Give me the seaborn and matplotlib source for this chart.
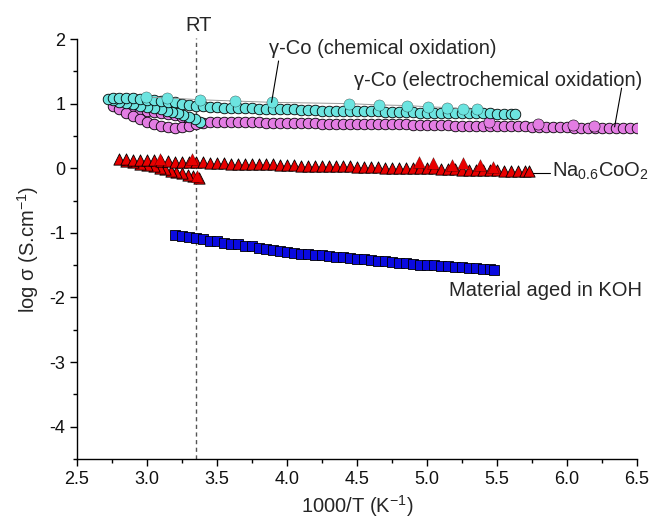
import matplotlib
matplotlib.use("Agg")
import matplotlib.pyplot as plt
import seaborn as sns
from matplotlib.ticker import MultipleLocator

# ---------------- data ----------------
# gamma-Co, chemical oxidation (cyan circles)
cyan_cool_x = [2.72, 2.76, 2.80, 2.85, 2.90, 2.95, 3.00, 3.05, 3.10, 3.15,
               3.20, 3.25, 3.30, 3.35, 3.40, 3.45, 3.50, 3.55, 3.60, 3.65,
               3.70, 3.75, 3.80, 3.85, 3.90, 3.95, 4.00, 4.05, 4.10, 4.15,
               4.20, 4.25, 4.30, 4.35, 4.40, 4.45, 4.50, 4.55, 4.60, 4.65,
               4.70, 4.75, 4.80, 4.85, 4.90, 4.95, 5.00, 5.05, 5.10, 5.15,
               5.20, 5.25, 5.30, 5.35, 5.40, 5.45, 5.50, 5.55, 5.60, 5.63]
cyan_cool_y = [1.07, 1.08, 1.08, 1.08, 1.08, 1.07, 1.06, 1.05, 1.04, 1.03,
               1.02, 1.00, 0.98, 0.97, 0.96, 0.95, 0.95, 0.94, 0.94, 0.93,
               0.93, 0.93, 0.92, 0.92, 0.92, 0.91, 0.91, 0.91, 0.90, 0.90,
               0.90, 0.89, 0.89, 0.89, 0.89, 0.88, 0.88, 0.88, 0.88, 0.88,
               0.87, 0.87, 0.87, 0.87, 0.87, 0.86, 0.86, 0.86, 0.86, 0.86,
               0.85, 0.85, 0.85, 0.85, 0.85, 0.85, 0.84, 0.84, 0.84, 0.84]
cyan_heat_x = [3.38, 3.34, 3.30, 3.26, 3.22, 3.18, 3.14, 3.10, 3.05, 3.00,
               2.95, 2.90, 2.85, 2.80, 2.76]
cyan_heat_y = [0.72, 0.76, 0.79, 0.82, 0.85, 0.87, 0.89, 0.91, 0.93, 0.95,
               0.97, 0.99, 1.01, 1.03, 1.05]
cyan_big_x = [2.99, 3.14, 3.38, 3.63, 3.89, 4.44, 4.66, 4.86, 5.01, 5.14, 5.26, 5.36]
cyan_big_y = [1.10, 1.09, 1.06, 1.04, 1.02, 1.00, 0.98, 0.97, 0.95, 0.94, 0.92, 0.91]

# gamma-Co, electrochemical oxidation (violet circles)
mag_arc_x = [2.80, 2.85, 2.90, 2.95, 3.00, 3.05, 3.10, 3.15, 3.20, 3.25, 3.30]
mag_arc_y = [0.98, 0.95, 0.92, 0.90, 0.88, 0.87, 0.86, 0.84, 0.82, 0.79, 0.76]
mag_low_x = [2.76, 2.80, 2.85, 2.90, 2.95, 3.00, 3.05, 3.10, 3.15, 3.20,
             3.25, 3.30, 3.35, 3.40, 3.45, 3.50]
mag_low_y = [0.96, 0.92, 0.86, 0.81, 0.76, 0.72, 0.68, 0.66, 0.64, 0.63,
             0.64, 0.66, 0.68, 0.70, 0.71, 0.71]
mag_right_x = [3.55, 3.60, 3.65, 3.70, 3.75, 3.80, 3.85, 3.90, 3.95, 4.00,
               4.05, 4.10, 4.15, 4.20, 4.25, 4.30, 4.35, 4.40, 4.45, 4.50,
               4.55, 4.60, 4.65, 4.70, 4.75, 4.80, 4.85, 4.90, 4.95, 5.00,
               5.05, 5.10, 5.15, 5.20, 5.25, 5.30, 5.35, 5.40, 5.45, 5.50,
               5.55, 5.60, 5.65, 5.70, 5.75, 5.80, 5.85, 5.90, 5.95, 6.00,
               6.05, 6.10, 6.15, 6.20, 6.25, 6.30, 6.35, 6.40, 6.45, 6.50]
mag_right_y = [0.71, 0.71, 0.71, 0.71, 0.71, 0.71, 0.70, 0.70, 0.70, 0.70,
               0.70, 0.70, 0.70, 0.70, 0.69, 0.69, 0.69, 0.69, 0.69, 0.69,
               0.69, 0.68, 0.68, 0.68, 0.68, 0.68, 0.68, 0.67, 0.67, 0.67,
               0.67, 0.67, 0.67, 0.66, 0.66, 0.66, 0.66, 0.66, 0.66, 0.65,
               0.65, 0.65, 0.65, 0.65, 0.64, 0.64, 0.64, 0.64, 0.64, 0.64,
               0.63, 0.63, 0.63, 0.63, 0.63, 0.62, 0.62, 0.62, 0.62, 0.62]
mag_big_x = [5.44, 5.79, 6.04, 6.19]
mag_big_y = [0.71, 0.69, 0.67, 0.65]

# Na0.6CoO2 (red triangles)
red_cool_x = [2.80, 2.85, 2.90, 2.95, 3.00, 3.05, 3.10, 3.15, 3.20, 3.25,
              3.30, 3.35, 3.40, 3.45, 3.50, 3.55, 3.60, 3.65, 3.70, 3.75,
              3.80, 3.85, 3.90, 3.95, 4.00, 4.05, 4.10, 4.15, 4.20, 4.25,
              4.30, 4.35, 4.40, 4.45, 4.50, 4.55, 4.60, 4.65, 4.70, 4.75,
              4.80, 4.85, 4.90, 4.95, 5.00, 5.05, 5.10, 5.15, 5.20, 5.25,
              5.30, 5.35, 5.40, 5.45, 5.50, 5.55, 5.60, 5.65, 5.70, 5.73]
red_cool_y = [0.14, 0.14, 0.13, 0.13, 0.12, 0.12, 0.11, 0.11, 0.10, 0.10,
              0.09, 0.09, 0.09, 0.08, 0.08, 0.08, 0.07, 0.07, 0.07, 0.06,
              0.06, 0.06, 0.06, 0.05, 0.05, 0.05, 0.04, 0.04, 0.04, 0.04,
              0.03, 0.03, 0.03, 0.03, 0.02, 0.02, 0.02, 0.02, 0.01, 0.01,
              0.01, 0.01, 0.00, 0.00, 0.00, 0.00, -0.01, -0.01, -0.01, -0.02,
              -0.02, -0.02, -0.03, -0.03, -0.03, -0.04, -0.04, -0.04, -0.05, -0.05]
red_heat_x = [3.37, 3.33, 3.29, 3.25, 3.21, 3.17, 3.13, 3.09, 3.05, 3.00,
              2.95, 2.90, 2.85]
red_heat_y = [-0.15, -0.12, -0.10, -0.08, -0.06, -0.04, -0.01, 0.01, 0.03, 0.05,
              0.07, 0.09, 0.11]
red_big_x = [3.09, 3.32, 3.36, 4.94, 5.04, 5.18, 5.26, 5.38, 5.47]
red_big_y = [0.15, 0.15, -0.12, 0.09, 0.08, 0.05, 0.08, 0.05, 0.02]

# Material aged in KOH (blue squares)
blue_x = [3.20, 3.25, 3.30, 3.35, 3.40, 3.45, 3.50, 3.55, 3.60, 3.65,
          3.70, 3.75, 3.80, 3.85, 3.90, 3.95, 4.00, 4.05, 4.10, 4.15,
          4.20, 4.25, 4.30, 4.35, 4.40, 4.45, 4.50, 4.55, 4.60, 4.65,
          4.70, 4.75, 4.80, 4.85, 4.90, 4.95, 5.00, 5.05, 5.10, 5.15,
          5.20, 5.25, 5.30, 5.35, 5.40, 5.45, 5.48]
blue_y = [-1.04, -1.05, -1.06, -1.08, -1.10, -1.12, -1.13, -1.15, -1.17, -1.18,
          -1.20, -1.21, -1.23, -1.25, -1.26, -1.28, -1.29, -1.31, -1.32, -1.33,
          -1.34, -1.35, -1.36, -1.37, -1.38, -1.39, -1.40, -1.41, -1.42, -1.43,
          -1.44, -1.45, -1.46, -1.47, -1.48, -1.49, -1.50, -1.50, -1.51, -1.52,
          -1.53, -1.53, -1.54, -1.55, -1.56, -1.56, -1.57]

RT_X = 3.35
labels = ["γ-Co (chemical oxidation)", "γ-Co (electrochemical oxidation)",
          "Na$_{0.6}$CoO$_2$", "Material aged in KOH"]

# ---------------- style ----------------
sns.set_style("ticks")
plt.rcParams["font.family"] = ["Liberation Sans", "DejaVu Sans"]
plt.rcParams["mathtext.fontset"] = "custom"
plt.rcParams["mathtext.rm"] = "Liberation Sans"
plt.rcParams["mathtext.it"] = "Liberation Sans"
plt.rcParams["mathtext.default"] = "regular"

CYAN = "#6CE4E0"
VIOLET = "#E37DE3"
RED = "#E80000"
BLUE = "#0A0AE0"
ANN = 14.5

fig = plt.figure(figsize=(6.49, 5.23), dpi=100)
ax = fig.add_axes([0.1186, 0.1224, 0.8629, 0.803])

def pts(x, y, marker, s, color, z, lw=0.6):
    sns.scatterplot(x=x, y=y, marker=marker, s=s, color=color,
                    edgecolor="black", linewidth=lw, ax=ax, zorder=z,
                    legend=False)

# violet (behind cyan)
pts(mag_arc_x, mag_arc_y, "o", 58, VIOLET, 3)
pts(mag_low_x, mag_low_y, "o", 58, VIOLET, 3)
pts(mag_right_x, mag_right_y, "o", 58, VIOLET, 3)
pts(mag_big_x, mag_big_y, "o", 64, VIOLET, 3.5, lw=0.4)

# cyan
pts(cyan_heat_x, cyan_heat_y, "o", 58, CYAN, 4)
pts(cyan_cool_x, cyan_cool_y, "o", 58, CYAN, 4)
sns.lineplot(x=cyan_big_x, y=cyan_big_y, color="#999999", lw=0.7, sort=False,
             ax=ax, zorder=4.4, legend=False)
pts(cyan_big_x, cyan_big_y, "o", 64, CYAN, 4.5, lw=0.2)

# red
pts(red_heat_x, red_heat_y, "^", 66, RED, 5)
pts(red_cool_x, red_cool_y, "^", 66, RED, 5)
pts(red_big_x, red_big_y, "^", 72, RED, 5.5, lw=0.2)

# blue
pts(blue_x, blue_y, "s", 52, BLUE, 5)

# RT line
ax.plot([RT_X, RT_X], [-4.5, 2.02], ls=(0, (3, 2.5)), color="#555555",
        lw=1.0, clip_on=False, zorder=2)
ax.text(RT_X + 0.02, 2.06, "RT", ha="center", va="bottom", fontsize=ANN)

# annotations and leader lines
ax.text(5.50, 1.86, labels[0], ha="right", va="center", fontsize=ANN)
ax.plot([3.94, 3.89], [1.66, 1.02], color="black", lw=0.8, zorder=6)
ax.text(6.54, 1.36, labels[1], ha="right", va="center", fontsize=ANN)
ax.plot([6.39, 6.34], [1.24, 0.64], color="black", lw=0.8, zorder=6)
ax.text(5.89, -0.05, labels[2], ha="left", va="center", fontsize=ANN)
ax.plot([5.76, 5.88], [-0.08, -0.08], color="black", lw=0.8, zorder=6)
ax.text(5.16, -1.89, labels[3], ha="left", va="center", fontsize=ANN)

# axes
ax.set_xlim(2.5, 6.5)
ax.set_ylim(-4.5, 2.0)
ax.xaxis.set_major_locator(MultipleLocator(0.5))
ax.xaxis.set_minor_locator(MultipleLocator(0.25))
ax.yaxis.set_major_locator(MultipleLocator(1))
ax.yaxis.set_minor_locator(MultipleLocator(0.5))
ax.xaxis.set_major_formatter(plt.FuncFormatter(lambda v, p: f"{v:.1f}"))
ax.yaxis.set_major_formatter(plt.FuncFormatter(lambda v, p: f"{v:.0f}"))
ax.tick_params(which="major", direction="out", length=5, width=1,
               labelsize=13, color="black", labelcolor="#111111")
ax.tick_params(which="minor", direction="out", length=3, width=1, color="black")
for sp in ("left", "bottom"):
    ax.spines[sp].set_color("black")
    ax.spines[sp].set_linewidth(1.0)
sns.despine(ax=ax)
ax.set_xlabel("1000/T (K$^{-1}$)", fontsize=14.5, labelpad=4)
ax.set_ylabel("log σ (S.cm$^{-1}$)", fontsize=14.5, labelpad=6)

fig.savefig("out.png", dpi=100)
